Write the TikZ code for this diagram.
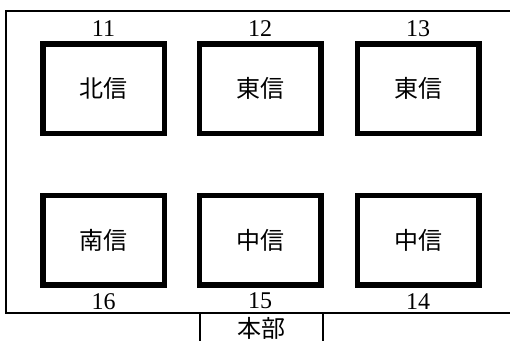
\documentclass[tikz,border=0pt]{standalone}
\usepackage{fontspec}
\setmainfont{Liberation Serif}
\newfontfamily\cjk{Noto Sans CJK JP}
\newfontfamily\numfont{Liberation Serif}
\begin{document}
\begin{tikzpicture}[x=1pt,y=-1pt,
  room/.style={draw, line width=5.5pt, minimum width=121.5pt, minimum height=89.5pt, inner sep=0pt, font=\cjk\fontsize{24pt}{24pt}\selectfont},
  num/.style={inner sep=0pt, font=\numfont\fontsize{24pt}{24pt}\selectfont},
  wall/.style={line width=2.5pt}]
\useasboundingbox (0,0) rectangle (510,340);
% outer frame
\draw[wall] (511,11) -- (6,11) -- (6,313) -- (511,313);
\draw[wall] (200,313) -- (200,341);
\draw[wall] (323,313) -- (323,341);
% rooms
\node[room] (r11) at (103.5,88.5) {北信};
\node[room] (r12) at (260,88.5) {東信};
\node[room] (r13) at (418,88.5) {東信};
\node[room] (r16) at (103.5,240) {南信};
\node[room] (r15) at (260,240) {中信};
\node[room] (r14) at (418,240) {中信};
% numbers
\node[num] (n11) at (103.5,28.5) {11};
\node[num] (n12) at (260,28.5) {12};
\node[num] (n13) at (418,28.5) {13};
\node[num] (n16) at (103.5,301.5) {16};
\node[num] (n15) at (260,300.5) {15};
\node[num] (n14) at (418,301.5) {14};
% headquarters
\node[inner sep=0pt, font=\cjk\fontsize{24pt}{24pt}\selectfont] (hq) at (261,328) {本部};
\end{tikzpicture}
\end{document}
